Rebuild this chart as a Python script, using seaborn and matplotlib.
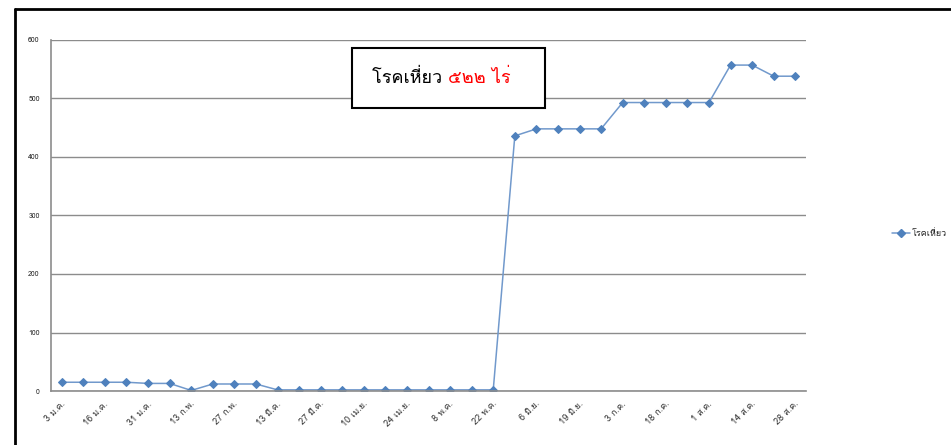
import matplotlib
matplotlib.use("Agg")
import matplotlib.pyplot as plt
from matplotlib import font_manager
from matplotlib.lines import Line2D
import seaborn as sns
import pandas as pd

# Data: weekly area of wilt disease (rai)
tick_labels = ["3 ม.ค.", "16 ม.ค.", "31 ม.ค.", "13 ก.พ.", "27 ก.พ.", "13 มี.ค.",
               "27 มี.ค.", "10 เม.ย.", "24 เม.ย.", "8 พ.ค.", "22 พ.ค.", "6 มิ.ย.",
               "19 มิ.ย.", "3 ก.ค.", "18 ก.ค.", "1 ส.ค.", "14 ส.ค.", "28 ส.ค."]
wilt_values = [15, 15, 15, 15, 13, 13, 1, 12, 12, 12,
               2, 2, 2, 2, 2, 2, 2, 2, 2, 2,
               2, 436, 448, 448, 448, 448, 493, 493, 493, 493,
               493, 557, 557, 538, 538]
series_name = "โรคเหี่ยว"
title_black = "โรคเหี่ยว "
title_red = "๕๒๒ ไร่"

df = pd.DataFrame({"week": range(len(wilt_values)), "area": wilt_values})

sns.set_style("white")

# find a font with Thai glyphs if there is one
thai_fonts = []
for f in font_manager.fontManager.ttflist:
    n = f.name
    if any(k in n for k in ["Thai", "Tlwg", "Loma", "Garuda", "Kinnari", "Norasi",
                            "Sawasdee", "Umpush", "Waree", "Purisa", "Sarabun"]):
        if n not in thai_fonts:
            thai_fonts.append(n)
plt.rcParams["font.family"] = thai_fonts + ["DejaVu Sans"]

fig = plt.figure(figsize=(9.51, 4.45), dpi=100)
ax = fig.add_axes([0.0536, 0.1213, 0.794, 0.789])

blue = "#4F81BD"
line_blue = "#7199CC"
sns.lineplot(data=df, x="week", y="area", ax=ax, color=line_blue, linewidth=1.1,
             marker="D", markersize=4.5, markerfacecolor=blue, markeredgecolor=blue,
             label=series_name, legend=False)

ax.set_xlim(-0.5, len(wilt_values) - 0.5)
ax.set_ylim(0, 600)
ax.set_yticks(range(0, 601, 100))
ax.tick_params(axis="y", labelsize=5, length=0, pad=8)
ax.yaxis.grid(True, color="#8C8C8C", linewidth=1)
ax.set_axisbelow(True)

# category boundary ticks, labels on every other category
ax.set_xticks([i - 0.5 for i in range(len(wilt_values) + 1)])
ax.set_xticklabels([])
ax.tick_params(axis="x", length=5, color="#8C8C8C", width=1, direction="out")
for i, lab in enumerate(tick_labels):
    ax.text(i * 2 - 0.05, -14, lab, rotation=45, ha="right", va="top",
            rotation_mode="anchor", fontsize=6.5, color="#333333")

ax.set_xlabel("")
ax.set_ylabel("")
for side in ["top", "right"]:
    ax.spines[side].set_visible(False)
for side in ["left", "bottom"]:
    ax.spines[side].set_color("#8C8C8C")
    ax.spines[side].set_linewidth(1.2)

# text box
fig.patches.append(plt.Rectangle((352 / 951, 1 - 108 / 445), 193 / 951, 60 / 445,
                                 transform=fig.transFigure, fill=True,
                                 facecolor="white", edgecolor="black", linewidth=1.5,
                                 zorder=5))
t1 = fig.text(372 / 951, 1 - 78 / 445, title_black, fontsize=13, color="black",
              va="center", ha="left", zorder=6)
fig.canvas.draw()
bb = t1.get_window_extent()
fig.text(bb.x1 / 951, 1 - 78 / 445, title_red, fontsize=13, color="red",
         va="center", ha="left", zorder=6)

# legend
handle = Line2D([0], [0], color=line_blue, marker="D", markersize=4, linewidth=1.1,
                markerfacecolor=blue, markeredgecolor=blue)
fig.legend([handle], [series_name], loc="center left",
           bbox_to_anchor=(884 / 951, 1 - 234 / 445), frameon=False,
           fontsize=6.5, handlelength=2, handletextpad=0.2)

# outer frame
fig.add_artist(Line2D([15 / 951, 1], [1 - 9 / 445, 1 - 9 / 445], color="black",
                      linewidth=2, transform=fig.transFigure))
fig.add_artist(Line2D([15 / 951, 15 / 951], [0, 1 - 9 / 445], color="black",
                      linewidth=2, transform=fig.transFigure))

fig.savefig("out.png", dpi=100)
